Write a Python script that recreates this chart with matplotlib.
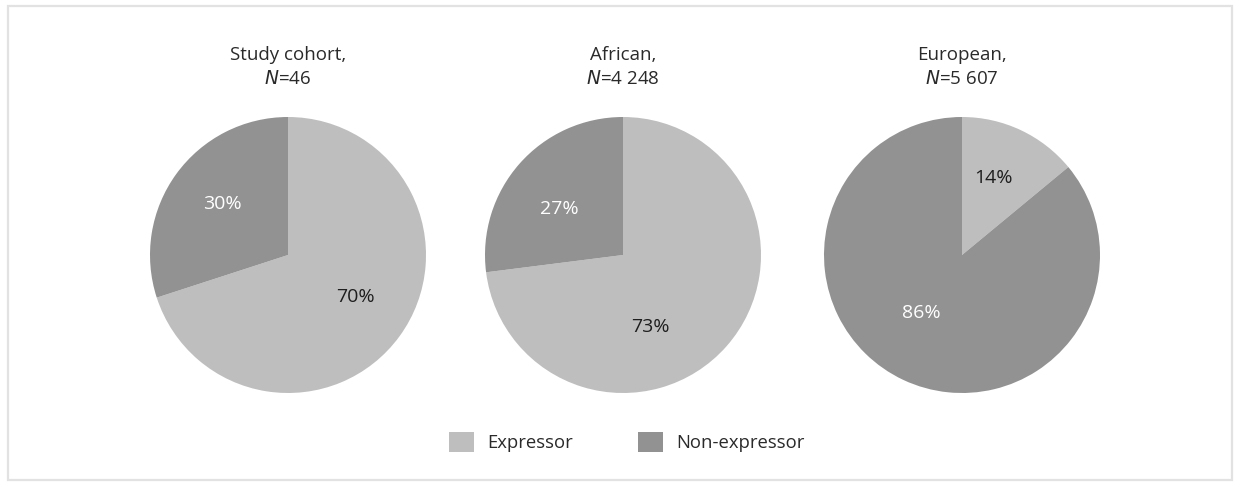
import matplotlib
matplotlib.use("Agg")
import matplotlib.pyplot as plt
from matplotlib.patches import Rectangle, Patch
import numpy as np

plt.rcParams['font.family'] = ['Open Sans', 'DejaVu Sans']

# Cohorts and their expressor / non-expressor shares (%)
cohort_names = ["Study cohort,", "African,", "European,"]
cohort_sizes = ["46", "4 248", "5 607"]
expressor_pct = [70, 73, 14]
non_expressor_pct = [30, 27, 86]
categories = ["Expressor", "Non-expressor"]

colors = ["#bebebe", "#929292"]
text_colors = ["#1e1e1e", "#ffffff"]

# label placement (angle in degrees, fraction of radius) for each slice
label_polar = [
    [(-32, 0.58), (142, 0.60)],
    [(-69, 0.56), (144, 0.57)],
    [(68, 0.60), (-125, 0.51)],
]

fig = plt.figure(figsize=(12.37, 4.82), dpi=100)
W, H = 1237, 482

# light frame around the panel
fig.patches.append(Rectangle((8 / W, 1 - 480 / H), (1232 - 8) / W, (480 - 6) / H,
                             transform=fig.transFigure, fill=False,
                             edgecolor="#e2e2e2", linewidth=1.6))

centers_x = [288, 623, 962]
cy = 255
r = 138

for i in range(3):
    ax = fig.add_axes([(centers_x[i] - r) / W, 1 - (cy + r) / H, 2 * r / W, 2 * r / H])
    vals = [expressor_pct[i], non_expressor_pct[i]]
    wedges, _ = ax.pie(vals, colors=colors, startangle=90, counterclock=False,
                       radius=1.0, wedgeprops=dict(linewidth=0))
    for j, v in enumerate(vals):
        ang, rf = label_polar[i][j]
        a = np.deg2rad(ang)
        ax.text(rf * np.cos(a), rf * np.sin(a), f"{v}%", ha="center", va="center",
                fontsize=14, color=text_colors[j], fontweight="normal")
    ax.set_xlim(-1, 1)
    ax.set_ylim(-1, 1)
    ax.set_aspect("equal")
    ax.axis("off")
    fig.text(centers_x[i] / W, 1 - 55 / H, cohort_names[i], ha="center", va="center",
             fontsize=13.5, color="#2a2a2a")
    fig.text(centers_x[i] / W, 1 - 79 / H, f"$\\mathit{{N}}$=" + cohort_sizes[i],
             ha="center", va="center", fontsize=13.5, color="#2a2a2a")

handles = [Patch(facecolor=colors[k], edgecolor="none") for k in range(2)]
fig.legend(handles, categories, loc="center", bbox_to_anchor=(627 / W, 1 - 442 / H),
           ncol=2, frameon=False, fontsize=13.3, handlelength=1.35, handleheight=1.35,
           columnspacing=3.55, handletextpad=0.7)
for t in fig.legends[0].get_texts():
    t.set_color("#2a2a2a")

fig.savefig("out.png", dpi=100)
